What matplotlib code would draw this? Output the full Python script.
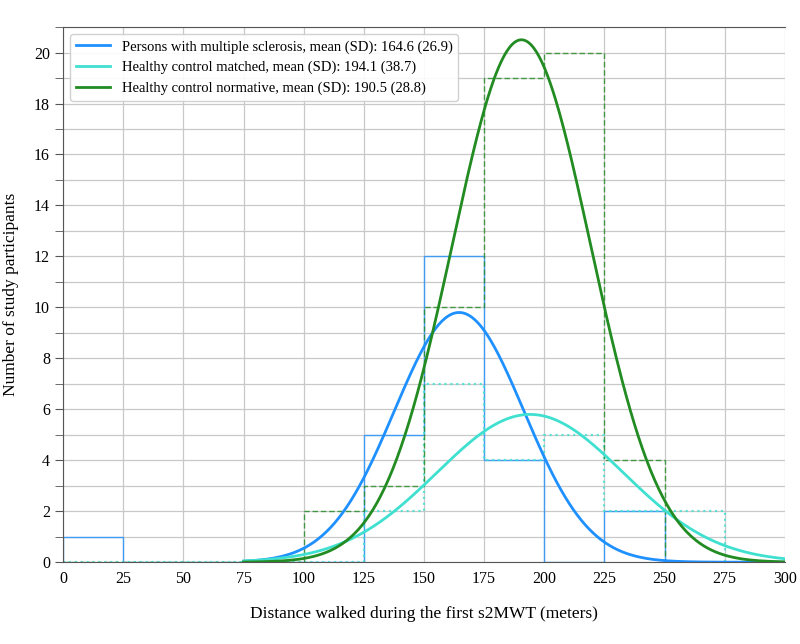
import numpy as np
import matplotlib.pyplot as plt
from matplotlib.ticker import MultipleLocator

plt.rcParams['font.family'] = ['Liberation Serif', 'DejaVu Serif']

# histogram bins (meters) and counts per group
bin_edges = np.arange(0, 325, 25)
ms_counts = [1, 0, 0, 0, 0, 5, 12, 4, 0, 2, 0, 0]
matched_counts = [0, 0, 0, 0, 0, 2, 7, 4, 5, 2, 2, 0]
normative_counts = [0, 0, 0, 0, 2, 3, 10, 19, 20, 4, 0, 0]

# fitted normal curves: mean, sd, peak height
means = [164.6, 194.1, 190.5]
sds = [26.9, 38.7, 28.8]
peaks = [9.8, 5.8, 20.5]
labels = ["Persons with multiple sclerosis, mean (SD): 164.6 (26.9)",
          "Healthy control matched, mean (SD): 194.1 (38.7)",
          "Healthy control normative, mean (SD): 190.5 (28.8)"]
colors = ["dodgerblue", "turquoise", "forestgreen"]
hist_styles = ["-", ":", (0, (4, 2))]
hist_widths = [1.0, 1.6, 1.0]

fig, ax = plt.subplots(figsize=(8, 6.44), dpi=100)
fig.subplots_adjust(left=0.079, right=0.981, bottom=0.127, top=0.958)

centers = bin_edges[:-1] + 12.5
for counts, c, ls, lw in zip([ms_counts, matched_counts, normative_counts], colors, hist_styles, hist_widths):
    ax.hist(centers, bins=bin_edges, weights=counts, histtype="step",
            color=c, linestyle=ls, linewidth=lw, alpha=0.8)

x = np.linspace(75, 300, 400)
for m, s, p, c, lab in zip(means, sds, peaks, colors, labels):
    ax.plot(x, p * np.exp(-0.5 * ((x - m) / s) ** 2), color=c, linewidth=2, label=lab)

ax.set_xlim(0, 300)
ax.set_ylim(0, 21)
ax.xaxis.set_major_locator(MultipleLocator(25))
ax.yaxis.set_major_locator(MultipleLocator(2))
ax.yaxis.set_minor_locator(MultipleLocator(1))
ax.grid(True, which="major", color="#c8c8c8", linewidth=0.9)
ax.grid(True, which="minor", axis="y", color="#c8c8c8", linewidth=0.9)
ax.set_axisbelow(True)
ax.tick_params(axis="both", labelsize=11.5)
ax.tick_params(axis="y", which="both", length=6, color="#555555")
ax.tick_params(axis="x", length=0, pad=6)
for sp in ["left", "bottom", "top"]:
    ax.spines[sp].set_color("#555555")
ax.spines["right"].set_visible(False)

ax.set_xlabel("Distance walked during the first s2MWT (meters)", fontsize=12.5, labelpad=14)
ax.set_ylabel("Number of study participants", fontsize=12.5, labelpad=11)
ax.legend(loc="upper left", fontsize=10.5, framealpha=0.9, handlelength=2.3)

plt.savefig("out.png", dpi=100)
